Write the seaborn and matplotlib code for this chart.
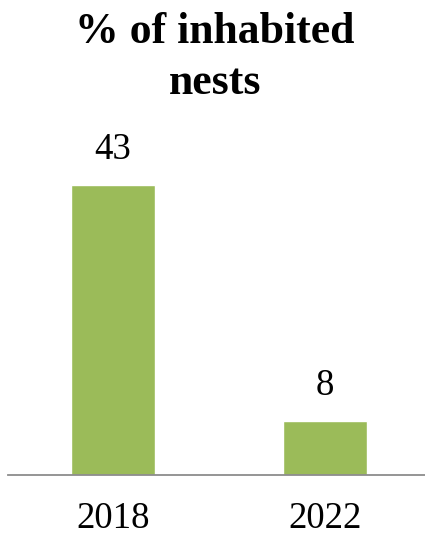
import matplotlib
matplotlib.use("Agg")
import matplotlib.pyplot as plt
import seaborn as sns
import pandas as pd

# data
years = ["2018", "2022"]
pct_inhabited = [43, 8]
title = "% of inhabited\nnests"

df = pd.DataFrame({"year": years, "pct": pct_inhabited})

sns.set_style("white")
plt.rcParams["font.family"] = ["Liberation Serif", "DejaVu Serif"]
plt.rcParams["text.color"] = "black"
plt.rcParams["xtick.color"] = "black"

fig = plt.figure(figsize=(4.25, 5.37), dpi=100)
ax = fig.add_axes([8 / 425, 62 / 537, 417 / 425, 337 / 537])

sns.barplot(data=df, x="year", y="pct", color="#9BBB59", width=0.396,
            saturation=1, ax=ax)

ax.set_xlim(-0.495, 1.472)
ax.set_ylim(0, 50)

# value labels
for i, v in enumerate(pct_inhabited):
    ax.annotate(str(v), (i, v), xytext=(0, 13), textcoords="offset points",
                ha="center", va="bottom", fontsize=26.5, color="black")

ax.set_xlabel("")
ax.set_ylabel("")
ax.set_yticks([])
ax.tick_params(axis="x", length=0, pad=19, labelsize=26.5, labelcolor="black")
for s in ["top", "left", "right"]:
    ax.spines[s].set_visible(False)
ax.spines["bottom"].set_color("#8c8c8c")
ax.spines["bottom"].set_linewidth(1.3)

fig.text(215 / 425, 1 - 12 / 537, title, ha="center", va="top",
         fontsize=31.5, fontweight="bold", linespacing=1.35, color="black")

fig.savefig("out.png", dpi=100)
